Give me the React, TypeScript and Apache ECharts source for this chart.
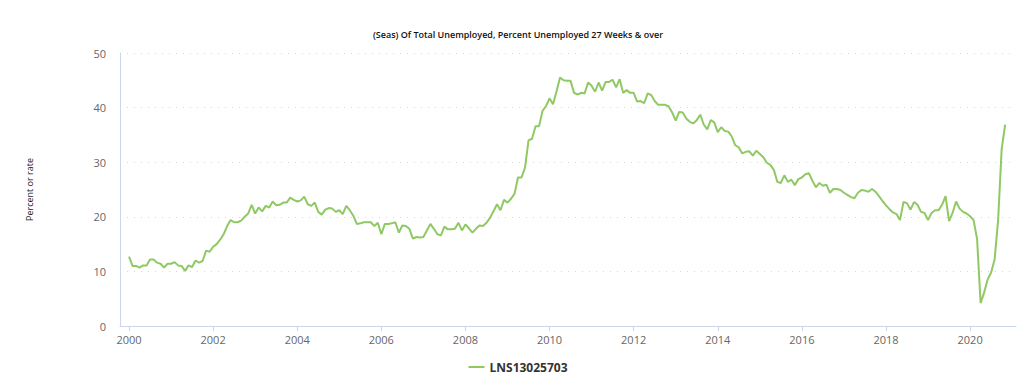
import React, { useEffect, useRef } from "react";
import * as echarts from "echarts";

const TITLE = "(Seas) Of Total Unemployed, Percent Unemployed 27 Weeks & over";
const SERIES_NAME = "LNS13025703";
const Y_AXIS_NAME = "Percent or rate";
const START_YEAR = 2000;
const YEAR_TICKS = [2000, 2002, 2004, 2006, 2008, 2010, 2012, 2014, 2016, 2018, 2020];

// Monthly values, Jan 2000 .. Nov 2020
const values2000_2004 = [
  12.7, 11.0, 11.0, 10.7, 11.1, 11.1, 12.2, 12.2, 11.6, 11.4, 10.7, 11.4,
  11.4, 11.7, 11.1, 11.0, 10.1, 11.1, 10.8, 12.0, 11.6, 11.9, 13.8, 13.6,
  14.5, 15.0, 15.8, 16.8, 18.3, 19.4, 19.0, 19.0, 19.3, 20.0, 20.6, 22.2,
  20.6, 21.7, 21.0, 22.0, 21.7, 22.8, 22.1, 22.2, 22.6, 22.6, 23.5, 23.1,
  22.8, 23.0, 23.7, 22.3, 22.0, 22.6, 20.9, 20.4, 21.3, 21.6, 21.5, 20.9,
];
const values2005_2009 = [
  21.2, 20.5, 22.0, 21.2, 20.2, 18.7, 18.8, 19.0, 19.0, 19.0, 18.3, 18.9,
  16.8, 18.7, 18.7, 18.8, 19.0, 17.1, 18.4, 18.3, 17.8, 16.0, 16.3, 16.2,
  16.3, 17.5, 18.7, 17.8, 16.8, 16.6, 18.2, 17.7, 17.7, 17.8, 18.9, 17.5,
  18.6, 17.9, 17.1, 17.8, 18.4, 18.3, 18.9, 19.8, 21.0, 22.3, 21.2, 23.1,
  22.6, 23.3, 24.2, 27.2, 27.2, 29.0, 34.0, 34.3, 36.6, 36.6, 39.4, 40.3,
];
const values2010_2014 = [
  41.7, 40.6, 43.0, 45.5, 45.0, 44.9, 44.9, 42.7, 42.4, 42.7, 42.6, 44.6,
  44.0, 42.9, 44.6, 43.1, 44.7, 44.7, 45.1, 43.7, 45.2, 42.7, 43.2, 42.7,
  42.7, 41.1, 41.2, 40.8, 42.6, 42.3, 41.2, 40.5, 40.5, 40.5, 40.2, 39.1,
  37.6, 39.2, 39.1, 38.0, 37.4, 37.1, 37.7, 38.7, 36.9, 36.0, 37.7, 37.3,
  35.5, 36.4, 35.7, 35.6, 34.7, 33.1, 32.7, 31.6, 31.9, 32.0, 31.2, 32.1,
];
const values2015_2020 = [
  31.5, 30.9, 29.9, 29.5, 28.6, 26.4, 26.2, 27.6, 26.4, 26.8, 25.8, 26.9,
  27.2, 27.8, 28.0, 26.6, 25.4, 26.2, 25.7, 25.9, 24.4, 25.1, 25.1, 24.9,
  24.4, 24.0, 23.6, 23.4, 24.4, 24.9, 24.8, 24.6, 25.1, 24.6, 23.8, 22.9,
  22.1, 21.4, 20.8, 20.5, 19.4, 22.7, 22.5, 21.3, 22.7, 22.2, 20.9, 20.7,
  19.4, 20.7, 21.2, 21.2, 22.2, 23.8, 19.2, 20.7, 22.8, 21.5, 20.9, 20.6,
  20.1, 19.4, 15.9, 4.2, 6.1, 8.5, 9.8, 12.2, 19.4, 32.3, 36.9,
];

const allValues = [...values2000_2004, ...values2005_2009, ...values2010_2014, ...values2015_2020];
const seriesData = allValues.map((v, i) => [START_YEAR + i / 12, v]);

export default function App() {
  const ref = useRef<HTMLDivElement>(null);
  useEffect(() => {
    if (!ref.current) return;
    const chart = echarts.init(ref.current, undefined, { renderer: "svg" });
    const font = "'Open Sans', 'DejaVu Sans', sans-serif";
    chart.setOption({
      animation: false,
      textStyle: { fontFamily: font },
      title: {
        text: TITLE,
        left: "center",
        top: 25,
        textStyle: { fontSize: 9, fontWeight: 600, color: "#111", fontFamily: font },
      },
      legend: {
        bottom: 3,
        left: "center",
        icon: "rect",
        itemWidth: 16,
        itemHeight: 2,
        itemGap: 10,
        textStyle: { fontSize: 12, fontWeight: "bold", color: "#333", fontFamily: font },
        data: [SERIES_NAME],
      },
      grid: { left: 120, right: 20, top: 53, bottom: 55 },
      xAxis: {
        type: "value",
        min: START_YEAR - 2.57 / 12,
        max: START_YEAR + 253.1 / 12,
        axisLine: { show: true, lineStyle: { color: "#ccd6eb" } },
        axisTick: { show: true, length: 5, lineStyle: { color: "#ccd6eb" }, customValues: YEAR_TICKS },
        axisLabel: {
          customValues: YEAR_TICKS,
          formatter: (v: number) => String(Math.round(v)),
          color: "#666",
          fontSize: 11,
          margin: 8,
          fontFamily: font,
        },
        splitLine: { show: false },
      },
      yAxis: {
        type: "value",
        min: 0,
        max: 50,
        interval: 10,
        name: Y_AXIS_NAME,
        nameLocation: "middle",
        nameGap: 86,
        nameRotate: 90,
        nameTextStyle: { fontSize: 9, color: "#222", fontFamily: font },
        axisLine: { show: true, lineStyle: { color: "#ccd6eb" } },
        axisTick: { show: false },
        axisLabel: { color: "#666", fontSize: 11, margin: 14, fontFamily: font },
        splitLine: { show: true, lineStyle: { color: "#d8d8d8", type: [1, 6] } },
      },
      series: [
        {
          name: SERIES_NAME,
          type: "line",
          data: seriesData,
          symbol: "none",
          showSymbol: false,
          lineStyle: { color: "#90c964", width: 2 },
          itemStyle: { color: "#90c964" },
        },
      ],
    });
    return () => chart.dispose();
  }, []);
  return (
    <div
      ref={ref}
      style={{ position: "fixed", left: 0, top: 0, width: 1036, height: 381, background: "#fff" }}
    />
  );
}
